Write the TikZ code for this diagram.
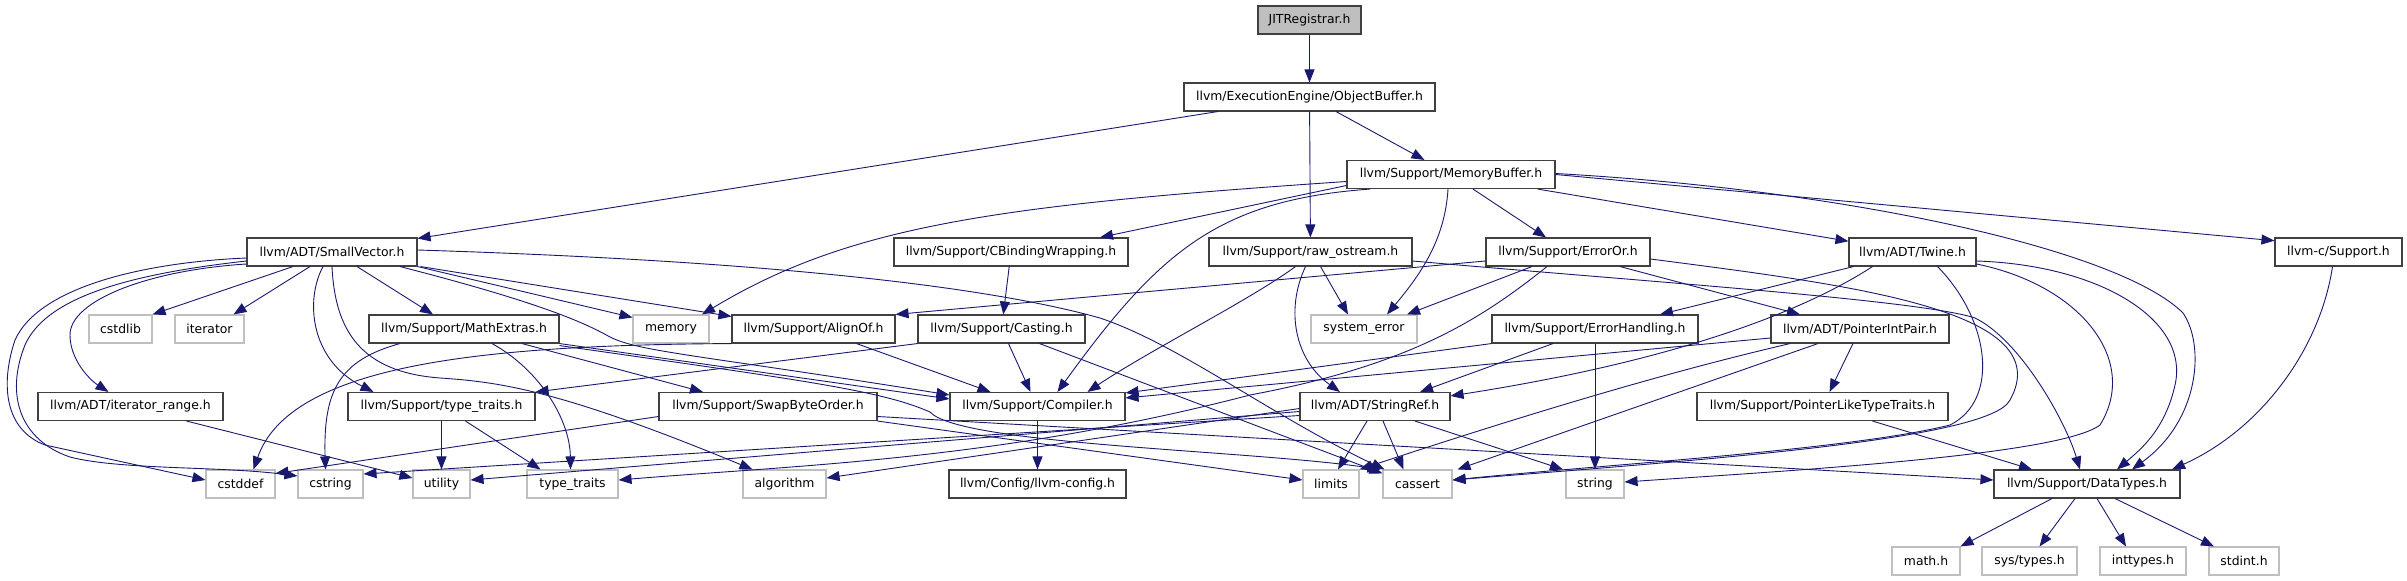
\documentclass[tikz,border=0pt]{standalone}
\usepackage{fontspec}
\setmainfont{DejaVu Sans}
\usetikzlibrary{arrows.meta}
\definecolor{edgec}{HTML}{191970}
\definecolor{bordc}{HTML}{404040}
\definecolor{grayb}{HTML}{BFBFBF}
\begin{document}
\begin{tikzpicture}[x=1pt,y=-1pt,
  box/.style={draw=bordc, fill=white, line width=1.1pt, minimum height=28pt, inner sep=0pt, font=\fontsize{12.4}{14}\selectfont, text=black},
  sysbox/.style={box, draw=grayb},
  rootbox/.style={box, fill=grayb},
  edge/.style={draw=edgec, line width=0.9pt, -{Triangle[length=13pt,width=10pt]}}
]
\fill[white] (0,0) rectangle (2407,581);
\useasboundingbox (0,0) rectangle (2407,581);

% row 0-2
\node[rootbox, minimum width=103pt] (jit) at (1309.5,20) {JITRegistrar.h};
\node[box, minimum width=251pt] (ob) at (1309.5,97) {llvm/ExecutionEngine/ObjectBuffer.h};
\node[box, minimum width=208pt] (mb) at (1451,174.5) {llvm/Support/MemoryBuffer.h};
% row 3
\node[box, minimum width=170pt] (sv) at (332,252) {llvm/ADT/SmallVector.h};
\node[box, minimum width=234pt] (cbw) at (1011,252) {llvm/Support/CBindingWrapping.h};
\node[box, minimum width=203pt] (ros) at (1310.5,252) {llvm/Support/raw\_ostream.h};
\node[box, minimum width=164pt] (eor) at (1568,252) {llvm/Support/ErrorOr.h};
\node[box, minimum width=127pt] (twine) at (1912.5,252) {llvm/ADT/Twine.h};
\node[box, minimum width=127pt] (lcs) at (2338.5,252) {llvm-c/Support.h};
% row 4
\node[sysbox, minimum width=63pt] (cstdlib) at (120.5,329) {cstdlib};
\node[sysbox, minimum width=69pt] (iterator) at (209.5,329) {iterator};
\node[box, minimum width=190pt] (me) at (464,329) {llvm/Support/MathExtras.h};
\node[sysbox, minimum width=76pt] (memory) at (671,329) {memory};
\node[box, minimum width=163pt] (align) at (813.5,329) {llvm/Support/AlignOf.h};
\node[box, minimum width=167pt] (cast) at (1001.5,329) {llvm/Support/Casting.h};
\node[sysbox, minimum width=106pt] (syserr) at (1364,329) {system\_error};
\node[box, minimum width=206pt] (eh) at (1595,329) {llvm/Support/ErrorHandling.h};
\node[box, minimum width=178pt] (pip) at (1860,329) {llvm/ADT/PointerIntPair.h};
% row 5
\node[box, minimum width=185pt] (itr) at (130.5,406.5) {llvm/ADT/iterator\_range.h};
\node[box, minimum width=187pt] (tt) at (441.5,406.5) {llvm/Support/type\_traits.h};
\node[box, minimum width=218pt] (sbo) at (768,406.5) {llvm/Support/SwapByteOrder.h};
\node[box, minimum width=175pt] (comp) at (1037.5,406.5) {llvm/Support/Compiler.h};
\node[box, minimum width=150pt] (sref) at (1375,406.5) {llvm/ADT/StringRef.h};
\node[box, minimum width=251pt] (pltt) at (1822.5,406.5) {llvm/Support/PointerLikeTypeTraits.h};
% row 6
\node[sysbox, minimum width=69pt] (cstddef) at (240.5,484) {cstddef};
\node[sysbox, minimum width=65pt] (cstring) at (330.5,484) {cstring};
\node[sysbox, minimum width=57pt] (utility) at (441.5,484) {utility};
\node[sysbox, minimum width=91pt] (ttr) at (572.5,484) {type\_traits};
\node[sysbox, minimum width=83pt] (algo) at (784.5,484) {algorithm};
\node[box, minimum width=177pt] (cfg) at (1037.5,484) {llvm/Config/llvm-config.h};
\node[sysbox, minimum width=56pt] (limits) at (1331,484) {limits};
\node[sysbox, minimum width=69pt] (cassert) at (1417.5,484) {cassert};
\node[sysbox, minimum width=58pt] (string) at (1595,484) {string};
\node[box, minimum width=186pt] (dt) at (2087,484) {llvm/Support/DataTypes.h};
% row 7
\node[sysbox, minimum width=68pt] (math) at (1926,561) {math.h};
\node[sysbox, minimum width=95pt] (systypes) at (2029.5,561) {sys/types.h};
\node[sysbox, minimum width=86pt] (inttypes) at (2143,561) {inttypes.h};
\node[sysbox, minimum width=70pt] (stdint) at (2244,561) {stdint.h};

% top
\draw[edge] (jit) -- (ob);
\draw[edge] (ob) -- (sv);
\draw[edge] (ob) -- (ros);
\draw[edge] (ob) -- (mb);

% MemoryBuffer
\draw[edge] ([yshift=-11]mb.west) -- ([xshift=89]cbw.north);
\draw[edge] (mb) -- (eor);
\draw[edge] (mb) -- (twine);
\draw[edge] (mb.east) -- (lcs.170);
\draw[edge] ([yshift=1]mb.east) .. controls (1850,190) and (2120,250) .. (2183,313) .. controls (2205,345) and (2200,420) .. ([xshift=45]dt.north);
\draw[edge] ([yshift=-7]mb.west) .. controls (1000,205) and (850,225) .. ([xshift=31]memory.north);
\draw[edge] ([xshift=-81]mb.south) .. controls (1220,200) and (1160,250) .. ([xshift=20]comp.north);
\draw[edge] ([xshift=-3]mb.south) .. controls (1445,240) and (1420,275) .. ([xshift=23]syserr.north);

% SmallVector
\draw[edge] ([yshift=-6]sv.west) .. controls (150,262) and (40,285) .. (15,340) .. controls (0,385) and (5,430) .. (45,445) -- ([yshift=4]cstddef.west);
\draw[edge] ([yshift=-9]sv.west) .. controls (120,275) and (45,300) .. (25,345) .. controls (5,395) and (20,440) .. (70,457) .. controls (120,470) and (220,466) .. ([yshift=8]cstring.west);
\draw[edge] ([yshift=-12]sv.west) .. controls (150,270) and (70,300) .. (70,335) .. controls (70,360) and (90,380) .. ([xshift=-22]itr.north);
\draw[edge] ([xshift=-39]sv.south) -- (cstdlib.north east);
\draw[edge] ([xshift=-22]sv.south) -- ([xshift=24]iterator.north);
\draw[edge] ([xshift=-9]sv.south) .. controls (305,300) and (310,360) .. ([xshift=-68]tt.north);
\draw[edge] (sv.south) .. controls (335,330) and (360,372) .. (440,378) .. controls (500,382) and (560,390) .. ([xshift=-32]algo.north);
\draw[edge] ([xshift=25]sv.south) -- ([xshift=-31]me.north);
\draw[edge] (sv.south east) -- ([yshift=-3]memory.north west);
\draw[edge] ([xshift=3]sv.south east) -- ([yshift=-2]align.north west);
\draw[edge] ([xshift=68]sv.south) .. controls (530,300) and (580,320) .. (610,337) .. controls (640,352) and (700,355) .. ([yshift=-3]comp.north west);
\draw[edge] ([yshift=2]sv.east) .. controls (800,262) and (1000,290) .. (1100,318) .. controls (1180,345) and (1270,415) .. ([xshift=2]cassert.north west);

% MathExtras
\draw[edge] ([xshift=-64]me.south) .. controls (340,360) and (323,390) .. ([xshift=-5]cstring.north);
\draw[edge] ([xshift=28]me.south) .. controls (540,370) and (570,420) .. ([xshift=-2]ttr.north);
\draw[edge] ([xshift=58]me.south) -- ([xshift=-65]sbo.north);
\draw[edge] (me.south east) -- ([yshift=-7]comp.north west);
\draw[edge] ([yshift=-2]me.south east) .. controls (800,380) and (880,390) .. (930,412) .. controls (960,445) and (1250,450) .. ([xshift=-2]cassert.north west);

% SwapByteOrder
\draw[edge] ([yshift=-10]sbo.west) -- ([yshift=-4]cstddef.north east);
\draw[edge] (sbo.south east) -- ([yshift=4]limits.west);
\draw[edge] ([yshift=-10]sbo.east) -- ([yshift=4]dt.west);

% AlignOf
\draw[edge] ([xshift=43]align.south) -- ([xshift=-47]comp.north);
\draw[edge] (align.south west) .. controls (480,345) and (290,365) .. ([xshift=13]cstddef.north);

% Casting
\draw[edge] ([xshift=7]cast.south) -- ([xshift=-7]comp.north);
\draw[edge] (cast.south west) -- (tt.north east);
\draw[edge] ([xshift=38]cast.south) -- ([yshift=-4]cassert.north west);

% CBindingWrapping, Compiler
\draw[edge] (cbw) -- (cast);
\draw[edge] (comp) -- (cfg);

% raw_ostream
\draw[edge] ([xshift=-15]ros.south) .. controls (1250,300) and (1150,350) .. ([xshift=50]comp.north);
\draw[edge] ([xshift=-5]ros.south) .. controls (1285,310) and (1295,360) .. ([xshift=-35]sref.north);
\draw[edge] ([xshift=10]ros.south) -- ([xshift=-16]syserr.north);
\draw[edge] ([yshift=-9]ros.east) .. controls (1650,282) and (1920,300) .. (1975,318) .. controls (2020,340) and (2065,420) .. ([xshift=-7]dt.north);

% ErrorOr
\draw[edge] ([yshift=-9]eor.west) -- (align.north east);
\draw[edge] ([xshift=-36]eor.south) -- ([xshift=43]syserr.north);
\draw[edge] ([xshift=-21]eor.south) .. controls (1480,320) and (1410,365) .. (1250,395) .. controls (1000,460) and (800,465) .. ([yshift=4]ttr.east);
\draw[edge] ([xshift=52]eor.south) -- ([xshift=-60]pip.north);
\draw[edge] ([yshift=-7]eor.east) .. controls (1850,285) and (2060,310) .. (2010,400) .. controls (1990,440) and (1700,460) .. ([yshift=4]cassert.east);

% PointerIntPair
\draw[edge] ([yshift=-9]pip.west) -- ([yshift=-6]comp.north east);
\draw[edge] ([xshift=-70]pip.south) .. controls (1720,360) and (1600,390) .. (limits.north east);
\draw[edge] ([xshift=-42]pip.south) -- ([xshift=40]cassert.north);
\draw[edge] (pip) -- (pltt);

% ErrorHandling
\draw[edge] (eh.south west) -- ([yshift=-1]comp.north east);
\draw[edge] ([xshift=-42]eh.south) -- ([xshift=45]sref.north);
\draw[edge] (eh) -- (string);

% StringRef
\draw[edge] ([xshift=-8]sref.south) -- ([xshift=7]limits.north);
\draw[edge] ([xshift=8]sref.south) -- ([xshift=-14]cassert.north);
\draw[edge] ([xshift=40]sref.south) -- ([xshift=-32]string.north);
\draw[edge] ([yshift=-2]sref.west) -- ([yshift=6]algo.east);
\draw[edge] ([yshift=-5]sref.west) -- ([yshift=4]utility.east);
\draw[edge] ([yshift=-9]sref.west) -- ([yshift=10]cstring.east);

% Twine
\draw[edge] ([xshift=-59]twine.south) -- ([xshift=65]eh.north);
\draw[edge] ([xshift=-40]twine.south) .. controls (1790,320) and (1650,365) .. ([yshift=-4]sref.north east);
\draw[edge] ([yshift=-9]twine.east) .. controls (2100,265) and (2190,320) .. (2175,385) .. controls (2165,430) and (2140,450) .. ([xshift=30]dt.north);
\draw[edge] ([yshift=-12]twine.east) .. controls (2080,285) and (2140,360) .. (2100,425) .. controls (2060,455) and (1800,470) .. ([yshift=2]string.east);
\draw[edge] ([xshift=25]twine.south) .. controls (1990,320) and (2000,400) .. (1950,425) .. controls (1850,450) and (1600,465) .. ([yshift=4]cassert.east);

% PointerLikeTypeTraits, llvm-c
\draw[edge] ([xshift=50]pltt.south) -- ([xshift=-55]dt.north);
\draw[edge] ([xshift=-6]lcs.south) .. controls (2320,350) and (2260,430) .. ([xshift=85]dt.north);

% DataTypes
\draw[edge] ([xshift=-35]dt.south) -- (math.north east);
\draw[edge] ([xshift=-12]dt.south) -- ([xshift=10]systypes.north);
\draw[edge] ([xshift=10]dt.south) -- ([xshift=-17]inttypes.north);
\draw[edge] ([xshift=28]dt.south) -- ([xshift=-30]stdint.north);

% type_traits.h, iterator_range
\draw[edge] (tt) -- (utility);
\draw[edge] ([xshift=24]tt.south) -- ([xshift=-32]ttr.north);
\draw[edge] ([xshift=56]itr.south) -- ([yshift=6]utility.west);
\end{tikzpicture}
\end{document}
